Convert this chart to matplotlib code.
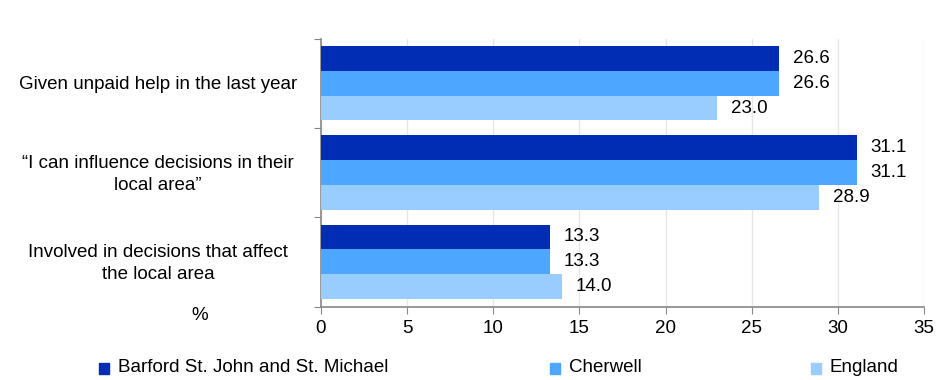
import matplotlib.pyplot as plt
import matplotlib.transforms as mtransforms
import numpy as np

plt.rcParams['font.family'] = ['Liberation Sans', 'DejaVu Sans']
FS = 13.5

categories = ["Given unpaid help in the last year",
              "\u201cI can influence decisions in their\nlocal area\u201d",
              "Involved in decisions that affect\nthe local area"]
series_names = ["Barford St. John and St. Michael", "Cherwell", "England"]
barford = [26.6, 31.1, 13.3]
cherwell = [26.6, 31.1, 13.3]
england = [23.0, 28.9, 14.0]
colors = ['#002DB3', '#4DA6FF', '#99CCFF']

fig = plt.figure(figsize=(9.45, 3.8), dpi=100)
ax = fig.add_axes([321 / 945, 1 - 306.5 / 380, 603 / 945, 268 / 380])

y = np.arange(len(categories))
h = 0.278
for i, (vals, c) in enumerate(zip([barford, cherwell, england], colors)):
    pos = y + (i - 1) * h
    ax.barh(pos, vals, height=h, color=c, zorder=3)
    for p, v in zip(pos, vals):
        ax.annotate(f"{v:.1f}", (v, p), xytext=(10, 0), textcoords='offset points',
                    va='center', ha='left', fontsize=FS)

ax.set_ylim(len(categories) - 0.5, -0.5)
ax.set_xlim(0, 35)
ax.set_xticks(range(0, 36, 5))
ax.set_yticks(np.arange(-0.5, len(categories), 1))
ax.set_yticklabels([])
ax.tick_params(axis='y', length=5, color='#888888')
ax.tick_params(axis='x', length=5, color='#888888', labelsize=FS, pad=5)
ax.grid(axis='x', color='#e6e6e6', linewidth=1, zorder=0)
for s in ['top', 'right']:
    ax.spines[s].set_visible(False)
for s in ['left', 'bottom']:
    ax.spines[s].set_color('#888888')
    ax.spines[s].set_linewidth(1.2)

# category labels, centred in the left margin
trans = mtransforms.blended_transform_factory(fig.transFigure, ax.transData)
for yc, lab in zip(y, categories):
    ax.text(158 / 945, yc + 0.02, lab, transform=trans, ha='center', va='center',
            multialignment='center', fontsize=FS, linespacing=1.35)

fig.text(200 / 945, 1 - 316 / 380, "%", ha='center', va='center', fontsize=FS)

legend_sq = [99, 550, 811]
for lx, name, c in zip(legend_sq, series_names, colors):
    fig.patches.append(plt.Rectangle((lx / 945, 1 - 374 / 380), 10 / 945, 11 / 380,
                                     transform=fig.transFigure, color=c))
    fig.text((lx + 19) / 945, 1 - 368 / 380, name, ha='left', va='center', fontsize=FS)

fig.savefig('out.png', dpi=100)
